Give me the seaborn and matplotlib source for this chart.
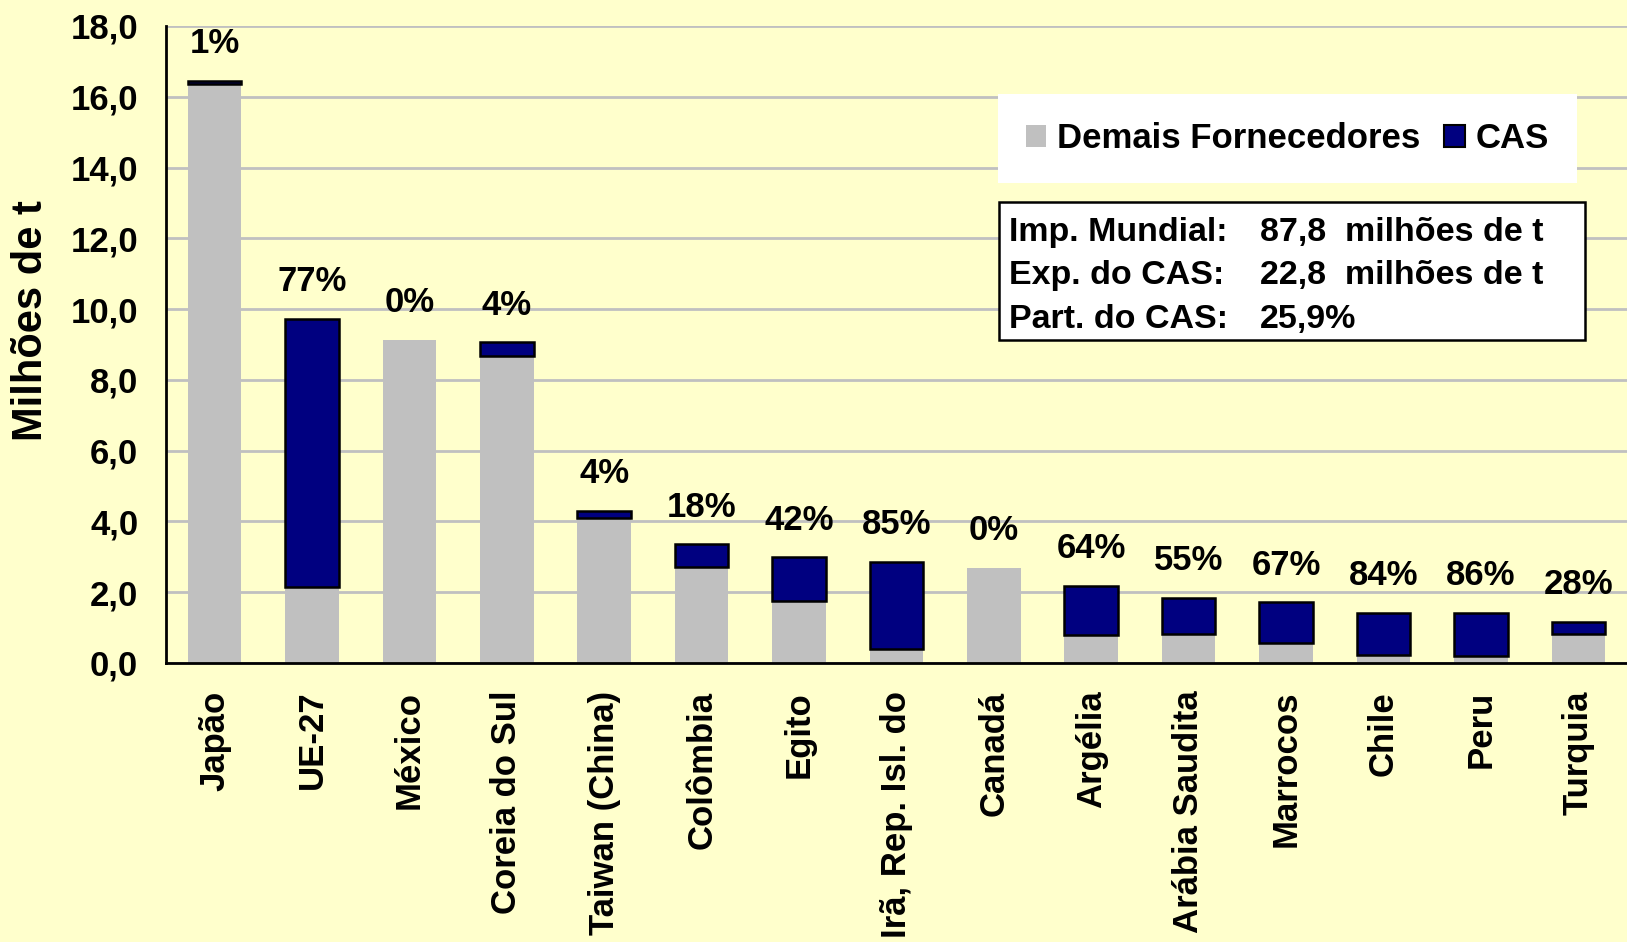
import matplotlib
matplotlib.use("Agg")
import matplotlib.pyplot as plt
import seaborn as sns
import numpy as np
from matplotlib.patches import Patch, Rectangle

# ---- data ----
countries = ["Japão", "UE-27", "México", "Coreia do Sul", "Taiwan (China)", "Colômbia",
             "Egito", "Irã, Rep. Isl. do", "Canadá", "Argélia", "Arábia Saudita",
             "Marrocos", "Chile", "Peru", "Turquia"]
demais = [16.35, 2.16, 9.14, 8.68, 4.10, 2.72, 1.75, 0.40, 2.69, 0.79, 0.82, 0.56, 0.22, 0.20, 0.82]
cas = [0.10, 7.57, 0.00, 0.38, 0.20, 0.63, 1.24, 2.46, 0.00, 1.39, 1.02, 1.15, 1.20, 1.22, 0.34]
pct_labels = ["1%", "77%", "0%", "4%", "4%", "18%", "42%", "85%", "0%", "64%", "55%",
              "67%", "84%", "86%", "28%"]
yticks = [0, 2, 4, 6, 8, 10, 12, 14, 16, 18]
ytick_labels = ["0,0", "2,0", "4,0", "6,0", "8,0", "10,0", "12,0", "14,0", "16,0", "18,0"]
legend_labels = ["Demais Fornecedores", "CAS"]
info_labels = ["Imp. Mundial:", "Exp. do CAS:", "Part. do CAS:"]
info_values = ["87,8  milhões de t", "22,8  milhões de t", "25,9%"]

BG = "#FFFFCC"
GRAY = "#C0C0C0"
NAVY = "#000080"

sns.set_theme(style="white")
plt.rcParams["font.family"] = ["Liberation Sans", "DejaVu Sans"]
plt.rcParams["font.weight"] = "bold"

fig = plt.figure(figsize=(16.27, 9.42), dpi=100, facecolor=BG)
ax = fig.add_axes([0.102, 0.2962, 0.898, 0.6762])
ax.set_facecolor(BG)

sns.barplot(x=countries, y=demais, color=GRAY, width=0.55, linewidth=0,
            errorbar=None, ax=ax, zorder=2, saturation=1)
n_before = len(ax.patches)
sns.barplot(x=countries, y=cas, bottom=np.array(demais), color=NAVY, width=0.55,
            edgecolor="black", linewidth=1.8, errorbar=None, ax=ax, zorder=3,
            saturation=1)
for p in ax.patches[n_before:]:
    if p.get_height() == 0:
        p.set_linewidth(0)
        p.set_visible(False)

totals = np.array(demais) + np.array(cas)
for i, (t, lab) in enumerate(zip(totals, pct_labels)):
    ax.text(i, t + 0.78, lab, ha="center", va="baseline", fontsize=25,
            fontweight="bold", color="black", zorder=6)

ax.set_xlim(-0.5, len(countries) - 0.5)
ax.set_ylim(0, 18)
ax.set_yticks(yticks)
ax.set_yticklabels(ytick_labels, fontsize=25, fontweight="bold")
ax.yaxis.grid(True, color=GRAY, linewidth=2.0, zorder=0)
ax.xaxis.grid(False)
ax.set_axisbelow(True)

ax.set_xticks(range(len(countries)))
ax.set_xticklabels(countries, rotation=90, fontsize=25, fontweight="bold")
ax.set_xticks(np.arange(-0.5, len(countries), 1.0), minor=True)
ax.tick_params(axis="x", which="major", length=0, pad=20, colors="black")
ax.tick_params(axis="x", which="minor", length=10, width=2, color="black", direction="out")
ax.tick_params(axis="y", which="major", length=6, width=2, color="black", direction="out",
               pad=14, colors="black")

for s in ["top", "right"]:
    ax.spines[s].set_visible(False)
for s in ["left", "bottom"]:
    ax.spines[s].set_color("black")
    ax.spines[s].set_linewidth(2)
    ax.spines[s].set_zorder(5)

ax.set_ylabel("Milhões de t", fontsize=30, fontweight="bold", color="black", labelpad=14)
ax.yaxis.label.set_y(0.537)
ax.set_xlabel("")

handles = [Patch(facecolor=GRAY, edgecolor="none"),
           Patch(facecolor=NAVY, edgecolor="black", linewidth=1.5)]
leg = ax.legend(handles, legend_labels, loc="center", bbox_to_anchor=(0.7675, 0.8235),
                ncol=2, frameon=True, fancybox=False, facecolor="white", edgecolor="none",
                framealpha=1, fontsize=25, handlelength=0.6, handleheight=0.6,
                handletextpad=0.3, columnspacing=0.7, borderpad=0.8, borderaxespad=0)
for t in leg.get_texts():
    t.set_fontweight("bold")
    t.set_color("black")
leg.set_zorder(7)

rect = Rectangle((0.570, 0.507), 0.401, 0.217, transform=ax.transAxes, facecolor="white",
                 edgecolor="black", linewidth=1.8, zorder=7, clip_on=False)
ax.add_patch(rect)
ys = [0.663, 0.5945, 0.526]
for y, lab, val in zip(ys, info_labels, info_values):
    ax.text(0.577, y, lab, transform=ax.transAxes, ha="left", va="baseline", fontsize=24.5,
            fontweight="bold", color="black", zorder=8)
    ax.text(0.749, y, val, transform=ax.transAxes, ha="left", va="baseline", fontsize=24.5,
            fontweight="bold", color="black", zorder=8)

fig.savefig("out.png", dpi=100, facecolor=BG)
